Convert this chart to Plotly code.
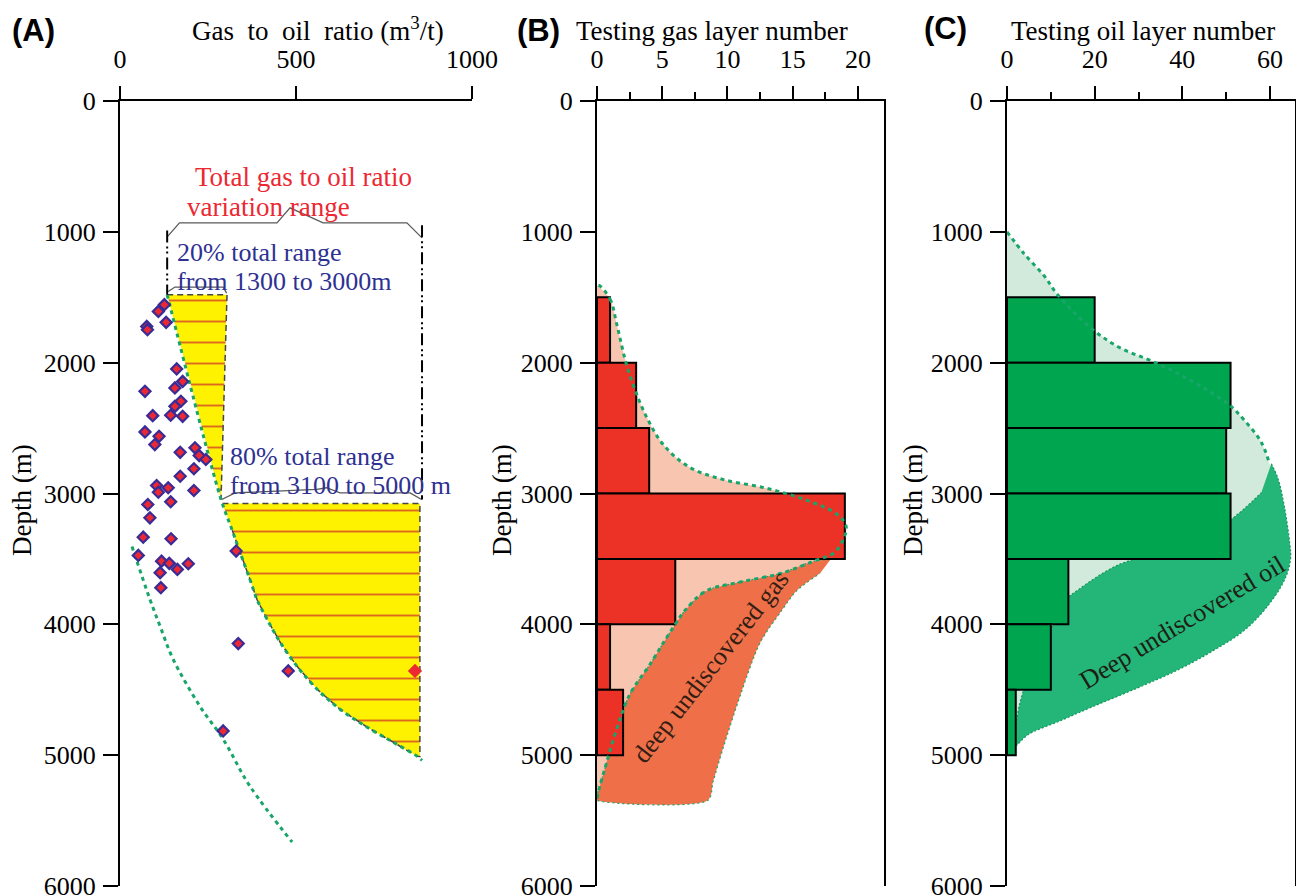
import plotly.graph_objects as go

W, H = 1296, 896
SERIF = "Liberation Serif, Times New Roman, serif"
SANS = "Liberation Sans, Arial, sans-serif"

# ---------------- data ----------------
depth_ticks = [0, 1000, 2000, 3000, 4000, 5000, 6000]
gor_ticks = [0, 500, 1000]
gas_ticks = [0, 5, 10, 15, 20]
oil_ticks = [0, 20, 40, 60]

# Panel A: measured gas-to-oil ratio points
gor_values = [126, 109, 131, 76, 78, 161, 71, 178, 156, 173, 156, 93, 144, 178, 71,
              111, 99, 171, 213, 225, 244, 210, 171, 104, 137, 109, 210, 144, 79, 85,
              66, 145, 330, 52, 118, 140, 194, 163, 114, 116, 336, 478, 293]
gor_depths = [1557, 1608, 1692, 1723, 1748, 2048, 2219, 2143, 2193, 2295, 2334, 2405, 2402, 2410, 2529,
              2563, 2626, 2685, 2651, 2710, 2740, 2811, 2868, 2939, 2956, 2990, 2977, 3063, 3084, 3186,
              3334, 3346, 3440, 3473, 3517, 3534, 3537, 3580, 3605, 3720, 4147, 4356, 4815]
max_gor_value = [838]
max_gor_depth = [4356]

# Panel A: 20% range wedge (1300-3000 m)
wedge20_gor = [134, 304, 287]
wedge20_depth = [1481, 1481, 3046]
# Panel A: 80% range zone (3100-5000 m)
zone80_gor = [291, 852, 852, 844, 776, 702, 625, 560, 503, 455, 418, 389, 369, 341, 318]
zone80_depth = [3076, 3076, 5010, 5008, 4901, 4786, 4649, 4496, 4321, 4137, 3962, 3809, 3656, 3450, 3275]
# Panel A: upper envelope (green dotted)
env_gor = [134, 287, 318, 341, 369, 389, 418, 455, 503, 560, 625, 702, 776, 844, 858]
env_depth = [1481, 3046, 3275, 3450, 3656, 3809, 3962, 4137, 4321, 4496, 4649, 4786, 4901, 5008, 5040]
# Panel A: lower trend (green dotted)
low_gor = [34, 85, 114, 151, 227, 293, 369, 489]
low_depth = [3405, 3809, 4015, 4267, 4626, 4878, 5237, 5664]
# Panel A: guide brackets / range markers
brk1_gor = [134, 169, 446, 483, 577, 815, 858]
brk1_depth = [1038, 931, 931, 817, 931, 931, 1046]
brk2_gor = [289, 327, 559, 587, 625, 824, 857]
brk2_depth = [3046, 2995, 2969, 2956, 2995, 2995, 3046]
brk3_gor = [137, 156, 293, 303]
brk3_depth = [1456, 1422, 1422, 1468]
vline_left_gor = [134, 134]
vline_left_depth = [990, 1481]
vline_right_gor = [858, 858]
vline_right_depth = [950, 3046]

# Panel B: tested gas layers per 500 m bin
bin_tops = [1500, 2000, 2500, 3000, 3500, 4000, 4500]
bin_size = 500
gas_counts = [1, 3, 4, 19, 6, 1, 2]
# Panel B envelopes
gas_env_x = [0, 1.0, 1.5, 2.2, 2.9, 3.8, 5.1, 7.1, 9.7, 13.0, 16.1, 18.4, 19.1, 18.9, 18.2,
             16.6, 14.1, 11.0, 8.4, 6.9, 5.6, 4.1, 2.5, 1.5, 0.7, 0.1, 0]
gas_env_d = [1409, 1515, 1700, 1992, 2204, 2416, 2629, 2800, 2894, 2960, 3053, 3159, 3252, 3345, 3451,
             3517, 3610, 3676, 3743, 3875, 4061, 4300, 4538, 4804, 5069, 5281, 5330]
gas_deep_x = [17.9, 16.6, 14.1, 11.0, 8.4, 6.9, 5.6, 4.1, 2.5, 1.5, 0.7, 0.1, 0, 0, 8.5,
              8.9, 9.7, 11.0, 12.5, 14.1, 15.3, 17.1]
gas_deep_d = [3504, 3517, 3610, 3676, 3743, 3875, 4061, 4300, 4538, 4804, 5069, 5281, 5330, 5345, 5345,
              5202, 4936, 4538, 4141, 3902, 3743, 3610]

# Panel C: tested oil layers per 500 m bin
oil_counts = [20, 51, 50, 51, 14, 10, 2]
oil_env_x = [0, 4.0, 8.5, 11.6, 19.7, 26.0, 32.9, 40.5, 50.5, 54.2, 58.0, 59.9, 60.3,
             58.0, 50.4, 39.0, 25.3, 16.1, 13.1, 10.0, 5.5, 3.2, 2.05, 1.8, 0]
oil_env_d = [1000, 1171, 1337, 1483, 1751, 1890, 1986, 2110, 2318, 2442, 2608, 2773, 2801,
             2994, 3215, 3409, 3547, 3740, 3823, 4044, 4348, 4569, 4762, 4928, 4950]
oil_deep_x = [60.3, 61.8, 63.3, 64.5, 64.7, 63.7, 60.3, 54.2, 46.6, 39.0, 29.8, 19.9, 12.3, 4.7, 2.05,
              1.8, 2.05, 3.2, 5.5, 10.0, 13.1, 16.1, 25.3, 39.0, 50.4, 58.0]
oil_deep_d = [2773, 2884, 3105, 3381, 3492, 3630, 3823, 4044, 4210, 4348, 4486, 4624, 4735, 4845, 4928,
              4928, 4762, 4569, 4348, 4044, 3823, 3740, 3547, 3409, 3215, 2994]
oil_top_x = oil_env_x[:12]
oil_top_d = oil_env_d[:12]

# ---------------- colours ----------------
GREEN_DOT = "rgb(24,165,105)"
YELLOW = "rgb(255,242,0)"
HATCH = "rgb(220,105,30)"
RED_BAR = "rgb(236,50,38)"
PINK = "rgb(248,198,176)"
ORANGE = "rgb(239,112,72)"
LIGHT_GREEN = "rgb(210,234,219)"
OIL_DEEP = "rgb(36,181,120)"
GREEN_BAR = "rgb(0,165,80)"
BLUE_TXT = "rgb(46,49,146)"
RED_TXT = "rgb(236,40,50)"

fig = go.Figure()

# ---------- Panel A ----------
hatch = dict(shape="-", fgcolor=HATCH, bgcolor=YELLOW, fgopacity=1, size=21, solidity=0.09,
             fillmode="replace")
fig.add_trace(go.Scatter(x=wedge20_gor, y=wedge20_depth, mode="lines", fill="toself",
                         fillcolor=YELLOW, fillpattern=hatch,
                         line=dict(color="rgb(70,70,70)", width=1.5, dash="6px,4px"),
                         xaxis="x", yaxis="y", hoverinfo="skip"))
fig.add_trace(go.Scatter(x=zone80_gor, y=zone80_depth, mode="lines", fill="toself",
                         fillcolor=YELLOW, fillpattern=hatch,
                         line=dict(color="rgb(70,70,70)", width=1.5, dash="6px,4px"),
                         xaxis="x", yaxis="y", hoverinfo="skip"))
fig.add_trace(go.Scatter(x=env_gor, y=env_depth, mode="lines",
                         line=dict(color=GREEN_DOT, width=3, dash="4px,4px", shape="spline"),
                         xaxis="x", yaxis="y", hoverinfo="skip"))
fig.add_trace(go.Scatter(x=low_gor, y=low_depth, mode="lines",
                         line=dict(color=GREEN_DOT, width=3, dash="4px,4px", shape="spline"),
                         xaxis="x", yaxis="y", hoverinfo="skip"))
for bx, by in [(brk1_gor, brk1_depth), (brk2_gor, brk2_depth), (brk3_gor, brk3_depth)]:
    fig.add_trace(go.Scatter(x=bx, y=by, mode="lines",
                             line=dict(color="rgb(90,90,90)", width=1.3),
                             xaxis="x", yaxis="y", hoverinfo="skip"))
for vx, vy in [(vline_left_gor, vline_left_depth), (vline_right_gor, vline_right_depth)]:
    fig.add_trace(go.Scatter(x=vx, y=vy, mode="lines",
                             line=dict(color="black", width=2, dash="12px,4px,2px,3px,2px,4px"),
                             xaxis="x", yaxis="y", hoverinfo="skip"))
fig.add_trace(go.Scatter(x=gor_values, y=gor_depths, mode="markers",
                         marker=dict(symbol="diamond", size=8.5, color="rgb(236,40,50)",
                                     line=dict(color="rgb(58,44,150)", width=2.2)),
                         xaxis="x", yaxis="y", hoverinfo="skip"))
fig.add_trace(go.Scatter(x=max_gor_value, y=max_gor_depth, mode="markers",
                         marker=dict(symbol="diamond", size=11, color="rgb(236,40,50)"),
                         xaxis="x", yaxis="y", hoverinfo="skip"))

# ---------- Panel B ----------
fig.add_trace(go.Scatter(x=gas_env_x, y=gas_env_d, mode="lines", fill="toself", fillcolor=PINK,
                         line=dict(width=0, shape="spline"), xaxis="x2", yaxis="y2", hoverinfo="skip"))
fig.add_trace(go.Scatter(x=gas_deep_x, y=gas_deep_d, mode="lines", fill="toself", fillcolor=ORANGE,
                         line=dict(color=GREEN_DOT, width=1.2, dash="2px,3px", shape="spline", smoothing=0.8),
                         xaxis="x2", yaxis="y2", hoverinfo="skip"))
bin_centers = [t + bin_size / 2 for t in bin_tops]
fig.add_trace(go.Bar(x=gas_counts, y=bin_centers, orientation="h", width=bin_size,
                     marker=dict(color=RED_BAR, line=dict(color="black", width=2)),
                     xaxis="x4", yaxis="y4", hoverinfo="skip"))
fig.add_trace(go.Scatter(x=gas_env_x + [gas_env_x[0]], y=gas_env_d + [gas_env_d[0]], mode="lines",
                         line=dict(color=GREEN_DOT, width=3, dash="4px,4px", shape="spline"),
                         xaxis="x4", yaxis="y4", hoverinfo="skip"))

# ---------- Panel C ----------
fig.add_trace(go.Scatter(x=oil_env_x, y=oil_env_d, mode="lines", fill="toself", fillcolor=LIGHT_GREEN,
                         line=dict(width=0, shape="spline"), xaxis="x3", yaxis="y3", hoverinfo="skip"))
fig.add_trace(go.Scatter(x=oil_deep_x, y=oil_deep_d, mode="lines", fill="toself", fillcolor=OIL_DEEP,
                         line=dict(color="rgb(20,150,90)", width=1.2, dash="2px,2px", shape="spline"),
                         xaxis="x3", yaxis="y3", hoverinfo="skip"))
fig.add_trace(go.Bar(x=oil_counts, y=bin_centers, orientation="h", width=bin_size,
                     marker=dict(color=GREEN_BAR, line=dict(color="black", width=2)),
                     xaxis="x5", yaxis="y5", hoverinfo="skip"))
fig.add_trace(go.Scatter(x=oil_top_x, y=oil_top_d, mode="lines",
                         line=dict(color=GREEN_DOT, width=3, dash="4px,4px", shape="spline"),
                         xaxis="x5", yaxis="y5", hoverinfo="skip"))

# ---------------- layout ----------------
def fx(p):
    return p / W


def fy(p):
    return 1 - p / H


ydom = [fy(886), fy(101)]
tickfont = dict(family=SERIF, size=26, color="black")


def yax(mirror):
    return dict(domain=ydom, range=[6000, 0], tickmode="array", tickvals=depth_ticks,
                ticks="outside", ticklen=15, tickwidth=2, tickcolor="black",
                showline=True, linewidth=2, linecolor="black", mirror=mirror,
                showgrid=False, zeroline=False, tickfont=tickfont, ticklabelstandoff=2,
                ticklabeloverflow="allow", automargin=False)


def xax(dom, rng, vals, minor_dtick=None):
    d = dict(domain=dom, range=rng, side="top", tickmode="array", tickvals=vals,
             ticks="outside", ticklen=13, tickwidth=2, tickcolor="black",
             showline=True, linewidth=2, linecolor="black",
             showgrid=False, zeroline=False, tickfont=tickfont, ticklabelstandoff=8,
             ticklabeloverflow="allow", automargin=False)
    if minor_dtick:
        d["minor"] = dict(tickmode="linear", tick0=0, dtick=minor_dtick, ticks="outside",
                          ticklen=7, tickwidth=2, tickcolor="black", showgrid=False)
    return d


fig.update_layout(
    width=W, height=H, margin=dict(l=0, r=0, t=0, b=0, autoexpand=False),
    paper_bgcolor="white", plot_bgcolor="rgba(0,0,0,0)", showlegend=False,
    xaxis=dict(**xax([fx(120), fx(472)], [0, 1000], gor_ticks), anchor="y"),
    yaxis=dict(**yax(False), anchor="x"),
    xaxis2=dict(**xax([fx(597), fx(884)], [0, 22], gas_ticks, 2.5), anchor="y2"),
    yaxis2=dict(**yax(True), anchor="x2"),
    xaxis3=dict(**xax([fx(1007), fx(1295)], [0, 65.7], oil_ticks, 10), anchor="y3"),
    yaxis3=dict(**yax(True), anchor="x3"),
    xaxis4=dict(overlaying="x2", range=[0, 22], visible=False, anchor="y4", automargin=False),
    yaxis4=dict(overlaying="y2", range=[6000, 0], visible=False, anchor="x4", automargin=False),
    xaxis5=dict(overlaying="x3", range=[0, 65.7], visible=False, anchor="y5", automargin=False),
    yaxis5=dict(overlaying="y3", range=[6000, 0], visible=False, anchor="x5", automargin=False),
)

ann = []


def add_text(text, x, y, size=26, color="black", family=SERIF, xanchor="center", angle=0):
    ann.append(dict(text=text, x=fx(x), y=fy(y), xref="paper", yref="paper", showarrow=False,
                    xanchor=xanchor, yanchor="middle", textangle=angle,
                    font=dict(family=family, size=size, color=color)))


add_text("<b>(A)</b>", 33, 30, size=31, family=SANS)
add_text("<b>(B)</b>", 538, 30, size=31, family=SANS)
add_text("<b>(C)</b>", 945, 29, size=31, family=SANS)
add_text("Gas\u00a0 to\u00a0 oil\u00a0 ratio\u00a0(m<sup>3</sup>/t)", 318, 29, size=27)
add_text("Testing gas layer number", 712, 31, size=27)
add_text("Testing oil layer number", 1143, 31, size=27)
add_text("Depth (m)", 22, 500, size=27, angle=-90)
add_text("Depth (m)", 502, 500, size=27, angle=-90)
add_text("Depth (m)", 913, 500, size=27, angle=-90)
add_text("Total gas to oil ratio", 193, 177, size=27, color=RED_TXT, xanchor="left")
add_text("variation range", 185, 207, size=27, color=RED_TXT, xanchor="left")
add_text("20% total range", 175, 253, size=26, color=BLUE_TXT, xanchor="left")
add_text("from 1300 to 3000m", 175, 282, size=26, color=BLUE_TXT, xanchor="left")
add_text("80% total range", 228, 456, size=26, color=BLUE_TXT, xanchor="left")
add_text("from 3100 to 5000 m", 228, 485, size=26, color=BLUE_TXT, xanchor="left")
add_text("deep undiscovered gas", 710, 667, size=26, color="rgb(50,30,20)", angle=-52)
add_text("Deep undiscovered oil", 1182, 622, size=26, color="rgb(30,30,20)", angle=-31)
fig.update_layout(annotations=ann)

fig.write_html("out.html")
